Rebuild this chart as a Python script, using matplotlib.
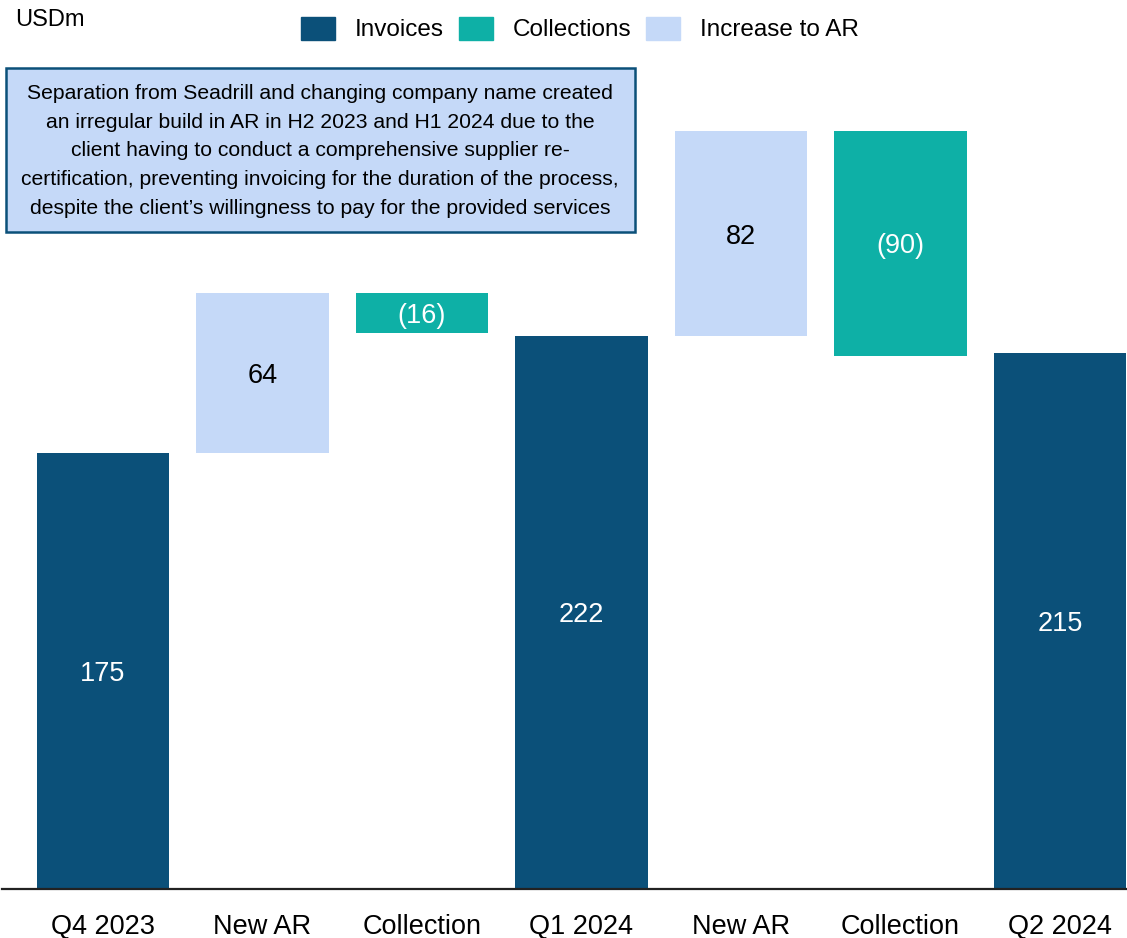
import matplotlib.pyplot as plt
import matplotlib.patches as mpatches

plt.rcParams['font.family'] = ['Liberation Sans', 'DejaVu Sans']

# Data
categories = ['Q4 2023', 'New AR', 'Collection', 'Q1 2024', 'New AR', 'Collection', 'Q2 2024']
values = [175, 64, -16, 222, 82, -90, 215]
kinds = ['total', 'increase', 'collection', 'total', 'increase', 'collection', 'total']
labels = ['175', '64', '(16)', '222', '82', '(90)', '215']

colors = {'total': '#0B5079', 'collection': '#0EB0A6', 'increase': '#C5D9F8'}
text_colors = {'total': 'white', 'collection': 'white', 'increase': 'black'}

note = ("Separation from Seadrill and changing company name created\n"
        "an irregular build in AR in H2 2023 and H1 2024 due to the\n"
        "client having to conduct a comprehensive supplier re-\n"
        "certification, preventing invoicing for the duration of the process,\n"
        "despite the client\u2019s willingness to pay for the provided services")

W, H = 1127, 938
fig = plt.figure(figsize=(W / 100, H / 100), dpi=100)
ax = fig.add_axes([2 / W, (H - 889) / H, 1 - 2 / W, 889 / H])

# waterfall: totals reset the level, changes float from the running level
level = 0
for i, (v, k, lab) in enumerate(zip(values, kinds, labels)):
    if k == 'total':
        bottom, height = 0, v
        level = v
    else:
        start = level
        level = level + v
        bottom, height = min(start, level), abs(v)
    ax.bar(i, height, bottom=bottom, width=0.83, color=colors[k])
    ax.text(i, bottom + height / 2, lab, ha='center', va='center_baseline',
            fontsize=19.5, color=text_colors[k])

ax.set_xlim(-0.633, 6.42)
ax.set_ylim(0, 356.7)
ax.set_xticks(range(len(categories)))
ax.set_xticklabels(categories, fontsize=19.5)
ax.tick_params(axis='x', length=0, pad=18)
ax.set_yticks([])
for s in ['top', 'right', 'left']:
    ax.spines[s].set_visible(False)
ax.spines['bottom'].set_linewidth(1.6)
ax.spines['bottom'].set_color('#222222')

# note box
box = mpatches.Rectangle((6 / W, 1 - 232 / H), 629 / W, 164 / H, transform=fig.transFigure,
                         facecolor='#C5D9F8', edgecolor='#0B5079', linewidth=1.8)
fig.patches.append(box)
fig.text(320 / W, 1 - 151 / H, note, ha='center', va='center', fontsize=15.2,
         linespacing=1.64)

fig.text(15 / W, 1 - 20 / H, 'USDm', ha='left', va='center', fontsize=17)

handles = [mpatches.Patch(color=colors['total'], label='Invoices'),
           mpatches.Patch(color=colors['collection'], label='Collections'),
           mpatches.Patch(color=colors['increase'], label='Increase to AR')]
fig.legend(handles=handles, loc='center', bbox_to_anchor=(580 / W, 1 - 29 / H),
           ncol=3, frameon=False, fontsize=17.5, handlelength=1.4, handleheight=1.1,
           columnspacing=0.63, handletextpad=0.8)

fig.savefig('out.png', dpi=100)
